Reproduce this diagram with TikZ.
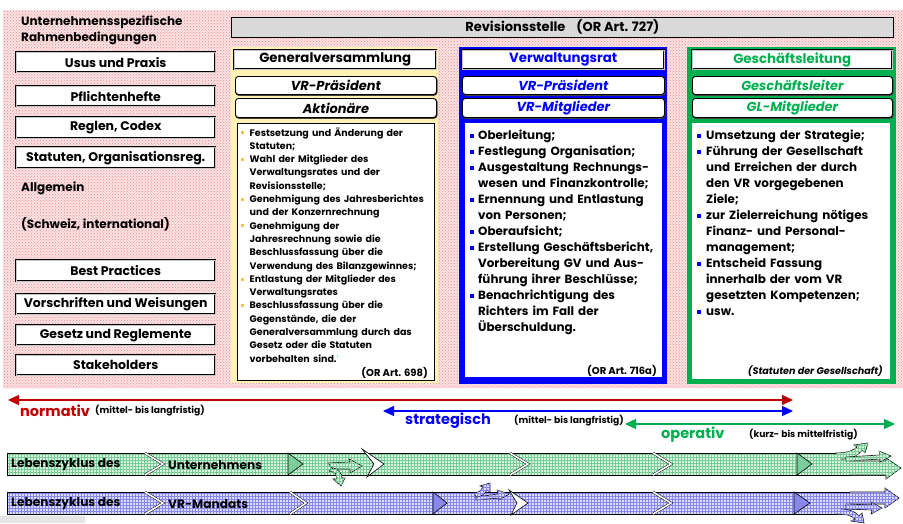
\documentclass[tikz,border=0pt]{standalone}
\usepackage{fontspec}
\setmainfont{Poppins}
\usetikzlibrary{arrows.meta,patterns}

\definecolor{pinkbg}{RGB}{250,226,227}
\definecolor{pinkdot}{RGB}{232,140,146}
\definecolor{gvyellow}{RGB}{255,242,179}
\definecolor{gvbullet}{RGB}{244,196,80}
\definecolor{vrblue}{RGB}{0,0,255}
\definecolor{glgreen}{RGB}{0,176,80}
\definecolor{normred}{RGB}{192,0,0}
\definecolor{revgray}{RGB}{217,217,217}
\definecolor{bandgreen}{RGB}{218,243,225}
\definecolor{bandgreengrid}{RGB}{120,205,150}
\definecolor{bandgreendk}{RGB}{125,205,155}
\definecolor{bandblue}{RGB}{220,220,250}
\definecolor{bandbluegrid}{RGB}{135,135,240}
\definecolor{bandbluedk}{RGB}{135,135,236}

% bulleted entry with hanging indent: colour, indent, text
\newcommand\listentry[3]{\par\hangindent=#2\hangafter=1\noindent
  \makebox[#2][l]{\textcolor{#1}{\rule[0.18em]{0.32em}{0.32em}}}#3}

\tikzset{
  bevelbox/.style={draw=black, line width=0.45pt, double=gray!45,
    double distance=1.3pt, fill=white, inner sep=0pt, anchor=north west},
  sidebox/.style={bevelbox, minimum width=199pt, font=\fontsize{12.5}{14}\selectfont\bfseries},
  headbox/.style={bevelbox, font=\fontsize{13.3}{15}\selectfont\bfseries},
  rolebox/.style={draw=black, line width=0.9pt, fill=white, rounded corners=3pt,
    inner sep=0pt, anchor=north west, font=\fontsize{13}{15}\selectfont\bfseries\itshape,
    preaction={draw=black!75, line width=1.3pt, transform canvas={xshift=0.5pt, yshift=-0.7pt}}},
  listtext/.style={anchor=north west, inner sep=0pt, align=left},
  srcnote/.style={anchor=east, inner sep=0pt, font=\fontsize{10}{12}\selectfont\bfseries},
  plain/.style={anchor=west, inner sep=0pt, font=\fontsize{12}{14}\selectfont\bfseries},
  spanlbl/.style={anchor=west, inner sep=0pt, font=\fontsize{14.5}{17}\selectfont\bfseries},
  termlbl/.style={anchor=west, inner sep=0pt, font=\fontsize{9.2}{11}\selectfont\bfseries},
  spanarrow/.style={line width=1.4pt, {Triangle[length=11pt,width=10pt]}-{Triangle[length=11pt,width=10pt]}},
  greenband/.style={fill=bandgreen, postaction={pattern=grid, pattern color=bandgreengrid}},
  blueband/.style={fill=bandblue, postaction={pattern=grid, pattern color=bandbluegrid}},
  bandedge/.style={draw=black, line width=0.8pt},
  chevron/.style={draw=black, line width=0.45pt, double=white, double distance=1.6pt, line join=miter},
  forkarrow/.style={draw=black, line width=0.6pt, line join=miter},
  bandlbl/.style={anchor=west, inner sep=0pt, font=\fontsize{12.2}{14}\selectfont\bfseries},
}

\begin{document}
\begin{tikzpicture}[x=1pt,y=-1pt]
\useasboundingbox (0,0) rectangle (903,523);
\fill[white] (0,0) rectangle (903,523);

% ---- background panel
\fill[pinkbg] (3,10) rectangle (903,388);
\fill[pattern=crosshatch dots, pattern color=pinkdot] (3,10) rectangle (903,388);

% ---- framework conditions (left column)
\node[anchor=north west, inner sep=0pt, align=left,
      font=\fontsize{12}{15.5}\selectfont\bfseries] (spec) at (21,16)
      {Unternehmensspezifische\\Rahmenbedingungen};
\node[sidebox, minimum height=20pt] (usus)  at (16,52)  {Usus und Praxis};
\node[sidebox, minimum height=20pt] (pfl)   at (16,86)  {Pflichtenhefte};
\node[sidebox, minimum height=21pt] (regl)  at (16,117) {Reglen, Codex};
\node[sidebox, minimum height=21pt] (stat)  at (16,147) {Statuten, Organisationsreg.};
\node[plain] (allg) at (21,188) {Allgemein};
\node[plain] (schw) at (21,224) {(Schweiz, international)};
\node[sidebox, minimum height=21pt] (best)  at (16,260) {Best Practices};
\node[sidebox, minimum height=20pt] (vors)  at (16,294) {Vorschriften und Weisungen};
\node[sidebox, minimum height=20pt] (ges)   at (16,325) {Gesetz und Reglemente};
\node[sidebox, minimum height=20pt] (stake) at (16,355) {Stakeholders};

% ---- auditors bar
\node[draw=black, line width=0.8pt, fill=revgray, anchor=north west, inner sep=0pt,
      minimum width=662pt, minimum height=20pt,
      font=\fontsize{13}{14}\selectfont\bfseries] (rev) at (231,17)
      {Revisionsstelle\hspace{0.85em}(OR Art. 727)};

% ---- column backgrounds
\fill[gvyellow] (231,47) rectangle (438,383);
\fill[vrblue]   (459,47) rectangle (667,384);
\fill[glgreen]  (687,47) rectangle (896,384);

% ---- general meeting
\node[headbox, minimum width=202pt, minimum height=19pt] (gv) at (234,50) {Generalversammlung};
\node[rolebox, minimum width=201pt, minimum height=18pt] (gvp) at (235,76) {VR-Präsident};
\node[rolebox, minimum width=201pt, minimum height=19pt] (gva) at (235,98) {Aktionäre};
\filldraw[fill=white, draw=black, line width=0.8pt] (237,123) rectangle (434,380);
\node[listtext, text width=190pt, font=\fontsize{9.5}{13.3}\selectfont\bfseries] (gvtxt) at (241,122.5) {%
\listentry{gvbullet}{8.5pt}{Festsetzung und Änderung der\newline Statuten;}
\listentry{gvbullet}{8.5pt}{Wahl der Mitglieder des\newline Verwaltungsrates und der\newline Revisionsstelle;}
\listentry{gvbullet}{8.5pt}{Genehmigung des Jahresberichtes\newline und der Konzernrechnung}
\listentry{gvbullet}{8.5pt}{Genehmigung der\newline Jahresrechnung sowie die\newline Beschlussfassung über die\newline Verwendung des Bilanzgewinnes;}
\listentry{gvbullet}{8.5pt}{Entlastung der Mitglieder des\newline Verwaltungsrates}
\listentry{gvbullet}{8.5pt}{Beschlussfassung über die\newline Gegenstände, die der\newline Generalversammlung durch das\newline Gesetz oder die Statuten\newline vorbehalten sind.\textsuperscript{\textcolor{glgreen!40}{\fontsize{4}{4}\selectfont 1}}}\par};
\node[srcnote] (gvsrc) at (428,373) {(OR Art. 698)};

% ---- board of directors
\node[headbox, minimum width=202pt, minimum height=19pt, text=vrblue] (vr) at (462,50) {Verwaltungsrat};
\node[rolebox, minimum width=202pt, minimum height=18pt, text=vrblue] (vrp) at (462,76) {VR-Präsident};
\node[rolebox, minimum width=202pt, minimum height=19pt, text=vrblue] (vrm) at (462,98) {VR-Mitglieder};
\fill[white] (465,123) rectangle (662,377);
\node[listtext, text width=192pt, font=\fontsize{11.9}{16}\selectfont\bfseries] (vrtxt) at (470,123.5) {%
\listentry{vrblue}{8pt}{Oberleitung;}
\listentry{vrblue}{8pt}{Festlegung Organisation;}
\listentry{vrblue}{8pt}{Ausgestaltung Rechnungs-\newline wesen und Finanzkontrolle;}
\listentry{vrblue}{8pt}{Ernennung und Entlastung\newline von Personen;}
\listentry{vrblue}{8pt}{Oberaufsicht;}
\listentry{vrblue}{8pt}{Erstellung Geschäftsbericht,\newline Vorbereitung GV und Aus-\newline führung ihrer Beschlüsse;}
\listentry{vrblue}{8pt}{Benachrichtigung des\newline Richters im Fall der\newline Überschuldung.}\par};
\node[srcnote] (vrsrc) at (657,371) {(OR Art. 716a)};

% ---- executive management
\node[headbox, minimum width=200pt, minimum height=19pt, text=glgreen] (gl) at (692,50) {Geschäftsleitung};
\node[rolebox, minimum width=200pt, minimum height=18pt, text=glgreen] (glp) at (692,76) {Geschäftsleiter};
\node[rolebox, minimum width=200pt, minimum height=19pt, text=glgreen] (glm) at (692,98) {GL-Mitglieder};
\fill[white] (692,123) rectangle (890,379);
\node[listtext, text width=192pt, font=\fontsize{11.9}{16}\selectfont\bfseries] (gltxt) at (697,123.5) {%
\listentry{vrblue}{9pt}{Umsetzung der Strategie;}
\listentry{vrblue}{9pt}{Führung der Gesellschaft\newline und Erreichen der durch\newline den VR vorgegebenen\newline Ziele;}
\listentry{vrblue}{9pt}{zur Zielerreichung nötiges\newline Finanz- und Personal-\newline management;}
\listentry{vrblue}{9pt}{Entscheid Fassung\newline innerhalb der vom VR\newline gesetzten Kompetenzen;}
\listentry{vrblue}{9pt}{usw.}\par};
\node[srcnote, font=\fontsize{9.6}{12}\selectfont\bfseries\itshape] (glsrc) at (883,371) {(Statuten der Gesellschaft)};

% ---- time horizons
\coordinate (normL) at (8,400);   \coordinate (normR) at (793,400);
\coordinate (stratL) at (383,411); \coordinate (stratR) at (793,411);
\coordinate (opL) at (625,424);   \coordinate (opR) at (895,424);
\draw[spanarrow, normred] (normL) -- (normR);
\draw[spanarrow, vrblue] (stratL) -- (stratR);
\draw[spanarrow, glgreen] (opL) -- (opR);
\node[spanlbl, text=normred] (norm) at (20,411) {normativ};
\node[termlbl] (normt) at (95,411) {(mittel- bis langfristig)};
\node[spanlbl, text=vrblue] (strat) at (405,421) {strategisch};
\node[termlbl] (stratt) at (514,421) {(mittel- bis langfristig)};
\node[spanlbl, text=glgreen] (op) at (661,435) {operativ};
\node[termlbl] (opt) at (749,435) {(kurz- bis mittelfristig)};

% ---- company life cycle band
\path[greenband] (7,453) rectangle (850,475);
\draw[bandedge] (850,453) -- (7,453) -- (7,475) -- (886,475);
\draw[chevron] (145,453) -- (163,464) -- (145,475);
\draw[chevron] (510,453) -- (528,464) -- (510,475);
\draw[chevron] (653,453) -- (671,464) -- (653,475);
\filldraw[fill=bandgreendk, draw=black, line width=0.6pt] (288,453) -- (303,464) -- (288,475) -- cycle;
\filldraw[fill=bandgreendk, draw=black, line width=0.6pt] (797,453) -- (812,464) -- (797,475) -- cycle;
% branching near the first phase change
\filldraw[forkarrow, fill=white] (362,449) -- (384,464) -- (367,477) -- (374,464) -- cycle;
\filldraw[forkarrow, greenband] (328,463) -- (350,462) -- (349,459) -- (362,466) -- (350,473) -- (350,469) -- (333,469) -- cycle;
\filldraw[forkarrow, greenband] (329,471) .. controls (335,472) and (337,474) .. (337,479)
   -- (333,479) -- (341,486) -- (345,478) -- (342,478) .. controls (342,473) and (338,469) .. (333,468) -- cycle;
% branching at the end
\filldraw[forkarrow, greenband] (850,461) -- (886,461) -- (886,458) -- (901,468) -- (886,479) -- (886,475) -- (850,475);
\filldraw[forkarrow, greenband] (836,453) .. controls (848,453) and (854,450) .. (857,447)
   -- (854,445) -- (868,443) -- (865,453) -- (862,450) .. controls (857,457) and (850,459) .. (841,459);
\filldraw[forkarrow, greenband] (846,457) -- (880,455) -- (879,451) -- (891,456) -- (880,462) -- (880,459) -- (846,461) -- cycle;
\node[bandlbl] (lzu1) at (11,465) {Lebenszyklus des};
\node[bandlbl] (lzu2) at (168,465) {Unternehmens};

% ---- board mandate life cycle band
\path[blueband] (7,492) rectangle (850,514);
\draw[bandedge] (850,514) -- (7,514) -- (7,492) -- (886,492);
\draw[chevron] (145,492) -- (163,503) -- (145,514);
\draw[chevron] (290,492) -- (306,503) -- (290,514);
\draw[chevron] (653,492) -- (671,503) -- (653,514);
\filldraw[fill=bandbluedk, draw=black, line width=0.6pt] (433,492) -- (447,503) -- (433,514) -- cycle;
\filldraw[fill=bandbluedk, draw=black, line width=0.6pt] (794,492) -- (810,503) -- (794,514) -- cycle;
% branching within the mandate
\filldraw[forkarrow, fill=white] (509,490) -- (528,503) -- (511,515) -- (517,503) -- cycle;
\filldraw[forkarrow, blueband] (474,493) .. controls (480,492) and (482,490) .. (483,487)
   -- (480,486) -- (490,483) -- (490,492) -- (487,490) .. controls (485,494) and (481,497) .. (476,497) -- cycle;
\filldraw[forkarrow, blueband] (476,497) -- (498,494) -- (497,490) -- (509,494) -- (499,500) -- (499,498) -- (476,500) -- cycle;
% branching at the end
\filldraw[forkarrow, blueband] (850,492) -- (885,492) -- (885,488) -- (899,498) -- (885,508) -- (885,504) -- (850,504);
\filldraw[forkarrow, blueband] (846,504) -- (872,505) -- (871,502) -- (882,508) -- (871,514) -- (872,510) -- (846,509) -- cycle;
\filldraw[forkarrow, blueband] (836,514) .. controls (848,514) and (852,516) .. (855,519)
   -- (851,521) -- (864,523) -- (862,513) -- (859,516) .. controls (855,511) and (848,509) .. (841,509);
\node[bandlbl] (lzv1) at (11,504) {Lebenszyklus des};
\node[bandlbl] (lzv2) at (168,504) {VR-Mandats};

% ---- strip at the lower left
\fill[gray!20] (0,516) rectangle (85,523);
\end{tikzpicture}
\end{document}
